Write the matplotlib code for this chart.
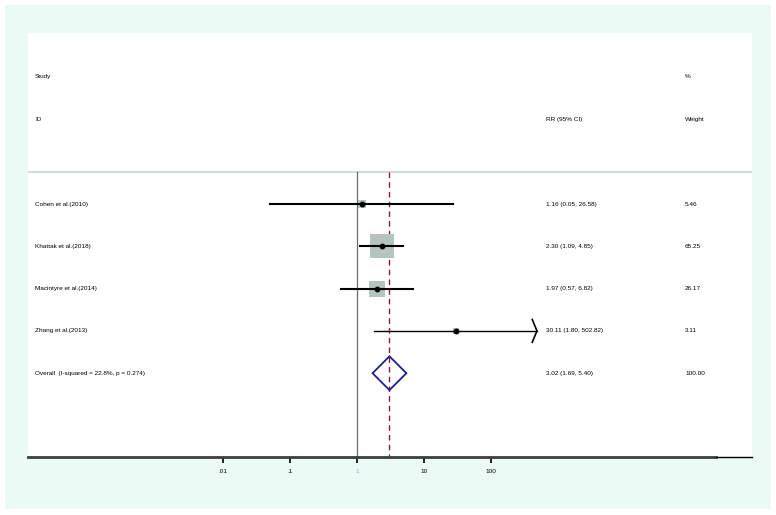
import matplotlib
matplotlib.use('Agg')
import matplotlib.pyplot as plt
from matplotlib.patches import Rectangle, Polygon
import numpy as np

# data
studies = ['Cohen et al.(2010)', 'Khattak et al.(2018)', 'Macintyre et al.(2014)', 'Zhang et al.(2013)']
rr = [1.16, 2.30, 1.97, 30.11]
ci_low = [0.05, 1.09, 0.57, 1.80]
ci_high = [26.58, 4.85, 6.82, 502.82]
weights = [5.46, 65.25, 26.17, 3.11]

overall_label = 'Overall  (I-squared = 22.8%, p = 0.274)'
overall_rr = 3.02
overall_low = 1.69
overall_high = 5.40
overall_weight = 100.00

tick_values = [0.01, 0.1, 1, 10, 100]
tick_labels = ['.01', '.1', '1', '10', '100']
x_clip = 480  # right edge where CIs get an arrow

plt.rcParams['font.family'] = ['Liberation Sans', 'DejaVu Sans']
FS = 4.6
W, H = 776, 515

fig = plt.figure(figsize=(W / 100, H / 100), dpi=100)
fig.patch.set_facecolor('white')

# mint background frame
bg = fig.add_axes([0, 0, 1, 1], zorder=0)
bg.set_xlim(0, W)
bg.set_ylim(H, 0)
bg.axis('off')
bg.add_patch(Rectangle((5, 5), 766, 504, facecolor='#ebfaf4', edgecolor='none'))

ax = fig.add_axes([28 / W, 1 - 457 / H, 724 / W, 424 / H], zorder=1)
ax.set_facecolor('white')
ax.set_xscale('log')
dec = 67.0
ax.set_xlim(10 ** ((28 - 357.3) / dec), 10 ** ((752 - 357.3) / dec))
row_h = 42.3
ax.set_ylim((457 - 204) / row_h, -(204 - 33) / row_h)

for s in ['top', 'right', 'left', 'bottom']:
    ax.spines[s].set_visible(False)

ybot = ax.get_ylim()[0]

# x axis line
ax.axhline(ybot, xmin=0, xmax=(716 - 28) / 724, color='#3a3f3f', lw=2.0,
           clip_on=False, zorder=3)
ax.axhline(ybot, xmin=(716 - 28) / 724, xmax=1, color='black', lw=1.0,
           clip_on=False, zorder=3)
ax.set_xticks(tick_values)
ax.set_xticklabels(tick_labels)
ax.minorticks_off()
ax.tick_params(axis='x', length=4.5, width=1.4, color='#222222', labelsize=FS, pad=4)
ax.get_xticklabels()[2].set_color('#9ab3e6')
ax.set_yticks([])

sep_y = (171.7 - 204) / row_h
ax.axhline(sep_y, color='#d3dbd9', lw=1.5, zorder=1)

# reference lines
ax.plot([1, 1], [sep_y, ybot], color='#6b6b6b', lw=0.9, zorder=2)
ax.plot([overall_rr, overall_rr], [sep_y, ybot], color='#8b1a3a', lw=1.0,
        ls=(0, (4, 3)), zorder=2)

# study rows
max_w = max(weights)
for i, (est, lo, hi, wt) in enumerate(zip(rr, ci_low, ci_high, weights)):
    side_px = 24.7 * np.sqrt(wt / max_w)
    ax.plot(est, i, marker='s', markersize=side_px * 0.72, color='#b4c4c0',
            markeredgewidth=0, ls='none', zorder=3)
    right = min(hi, x_clip)
    ax.plot([lo, right], [i, i], color='black', lw=1.5 if hi < x_clip else 1.0, zorder=4)
    if hi > x_clip:
        ax.plot([x_clip / 10 ** 0.07, x_clip, x_clip / 10 ** 0.07],
                [i - 0.27, i, i + 0.27], color='black', lw=1.2, zorder=4)
    ax.plot(est, i, marker='o', markersize=3.2, color='black', ls='none', zorder=5)

# overall diamond
yo = len(studies)
dh = 0.40
ax.add_patch(Polygon([[overall_low, yo], [overall_rr, yo - dh],
                      [overall_high, yo], [overall_rr, yo + dh]],
                     closed=True, fill=False, edgecolor='#1f1f8f', lw=1.3, zorder=4))

# text columns
x_study = (35 - 28) / 724
x_rr = (546 - 28) / 724
x_wt = (685 - 28) / 724
tr = ax.get_yaxis_transform()
y_study = (76.7 - 204) / row_h
y_id = (119 - 204) / row_h

ax.text(x_study, y_study, 'Study', transform=tr, fontsize=FS, va='center', ha='left')
ax.text(x_study, y_id, 'ID', transform=tr, fontsize=FS, va='center', ha='left', color='#2a1428')
ax.text(x_rr, y_id, 'RR (95% CI)', transform=tr, fontsize=FS, va='center', ha='left')
ax.text(x_wt, y_study, '%', transform=tr, fontsize=FS, va='center', ha='left')
ax.text(x_wt, y_id, 'Weight', transform=tr, fontsize=FS, va='center', ha='left')

for i, name in enumerate(studies):
    ax.text(x_study, i, name, transform=tr, fontsize=FS, va='center', ha='left')
    ax.text(x_rr, i, f'{rr[i]:.2f} ({ci_low[i]:.2f}, {ci_high[i]:.2f})', transform=tr,
            fontsize=FS, va='center', ha='left')
    ax.text(x_wt, i, f'{weights[i]:.2f}', transform=tr, fontsize=FS, va='center', ha='left')

ax.text(x_study, yo, overall_label, transform=tr, fontsize=FS, va='center', ha='left')
ax.text(x_rr, yo, f'{overall_rr:.2f} ({overall_low:.2f}, {overall_high:.2f})', transform=tr,
        fontsize=FS, va='center', ha='left')
ax.text(x_wt, yo, f'{overall_weight:.2f}', transform=tr, fontsize=FS, va='center', ha='left')

fig.savefig('out.png', dpi=100)
